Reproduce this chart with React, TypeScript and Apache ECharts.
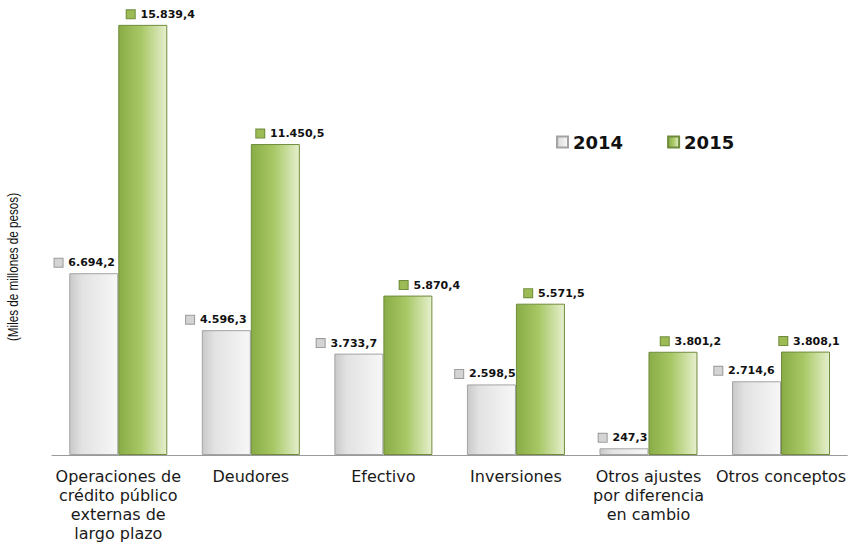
import React, { useEffect, useRef } from "react";
import * as echarts from "echarts";

const categories = [
  "Operaciones de\ncrédito público\nexternas de\nlargo plazo",
  "Deudores",
  "Efectivo",
  "Inversiones",
  "Otros ajustes\npor diferencia\nen cambio",
  "Otros conceptos",
];
const values2014 = [6694.2, 4596.3, 3733.7, 2598.5, 247.3, 2714.6];
const values2015 = [15839.4, 11450.5, 5870.4, 5571.5, 3801.2, 3808.1];
const seriesNames = ["2014", "2015"];
const yTitle = "(Miles de millones de pesos)";

// label horizontal nudges (style only)
const grayLabelDx = [-9, -10, -12, -6, -1, -12];
const greenLabelDx = [18, 15, 22, 14, 18, 4];

const fmt = (v: number) => {
  const [i, d] = v.toFixed(1).split(".");
  return i.replace(/\B(?=(\d{3})+(?!\d))/g, ".") + "," + d;
};

const grayFill = new echarts.graphic.LinearGradient(0, 0, 1, 0, [
  { offset: 0, color: "#c9c9c9" },
  { offset: 0.25, color: "#e2e2e2" },
  { offset: 1, color: "#f7f7f7" },
]);
const greenFill = new echarts.graphic.LinearGradient(0, 0, 1, 0, [
  { offset: 0, color: "#8aac47" },
  { offset: 0.45, color: "#a6c763" },
  { offset: 1, color: "#e6efcd" },
]);

export default function App() {
  const ref = useRef<HTMLDivElement>(null);
  useEffect(() => {
    if (!ref.current) return;
    const chart = echarts.init(ref.current, undefined, { renderer: "svg" });
    const mkLabel = (iconColor: string, iconBorder: string) => ({
      show: true,
      position: "top" as const,
      distance: 5,
      formatter: (p: any) => `{i|}{t| ${fmt(p.value)}}`,
      rich: {
        i: {
          width: 8,
          height: 8,
          backgroundColor: iconColor,
          borderColor: iconBorder,
          borderWidth: 1,
        },
        t: {
          fontFamily: "DejaVu Sans",
          fontWeight: "bold",
          fontSize: 11,
          color: "#111",
          padding: [0, 0, 0, 2],
        },
      },
    });
    const withOffsets = (vals: number[], dx: number[]) =>
      vals.map((v, i) => ({ value: v, label: { offset: [dx[i], 0] } }));
    chart.setOption({
      animation: false,
      backgroundColor: "#ffffff",
      grid: { left: 52, right: 0, top: 20.5, bottom: 82 },
      legend: {
        left: 556,
        top: 133,
        padding: 0,
        icon: "rect",
        itemWidth: 11,
        itemHeight: 11,
        itemGap: 44,
        textStyle: {
          fontFamily: "DejaVu Sans",
          fontWeight: "bold",
          fontSize: 18,
          color: "#111",
        },
        data: seriesNames,
      },
      xAxis: {
        type: "category",
        data: categories,
        axisLine: { show: true, lineStyle: { color: "#9a9a9a", width: 1 } },
        axisTick: { show: false },
        axisLabel: {
          interval: 0,
          margin: 12,
          fontFamily: "DejaVu Sans",
          fontSize: 16,
          lineHeight: 19,
          color: "#1a1a1a",
          align: "center",
        },
      },
      yAxis: {
        type: "value",
        min: 0,
        max: 16000,
        show: false,
        splitLine: { show: false },
      },
      graphic: [
        {
          type: "text",
          x: 13,
          y: 267,
          rotation: Math.PI / 2,
          scaleX: 0.78,
          style: {
            text: yTitle,
            fontFamily: "Liberation Sans, Arial, sans-serif",
            fontSize: 15,
            fill: "#111",
            align: "center",
            verticalAlign: "middle",
          },
        },
      ],
      series: [
        {
          name: seriesNames[0],
          type: "bar",
          data: withOffsets(values2014, grayLabelDx),
          barWidth: 49,
          barGap: "0%",
          itemStyle: { color: grayFill, borderColor: "#a3a3a3", borderWidth: 1 },
          label: mkLabel("#d4d4d4", "#9a9a9a"),
        },
        {
          name: seriesNames[1],
          type: "bar",
          data: withOffsets(values2015, greenLabelDx),
          barWidth: 49,
          barGap: "0%",
          itemStyle: { color: greenFill, borderColor: "#6f8c3c", borderWidth: 1 },
          label: mkLabel("#9dbb55", "#6f8c3c"),
        },
      ],
    });
    return () => chart.dispose();
  }, []);
  return (
    <div
      ref={ref}
      style={{ position: "fixed", left: 0, top: 0, width: 849, height: 543 }}
    />
  );
}
